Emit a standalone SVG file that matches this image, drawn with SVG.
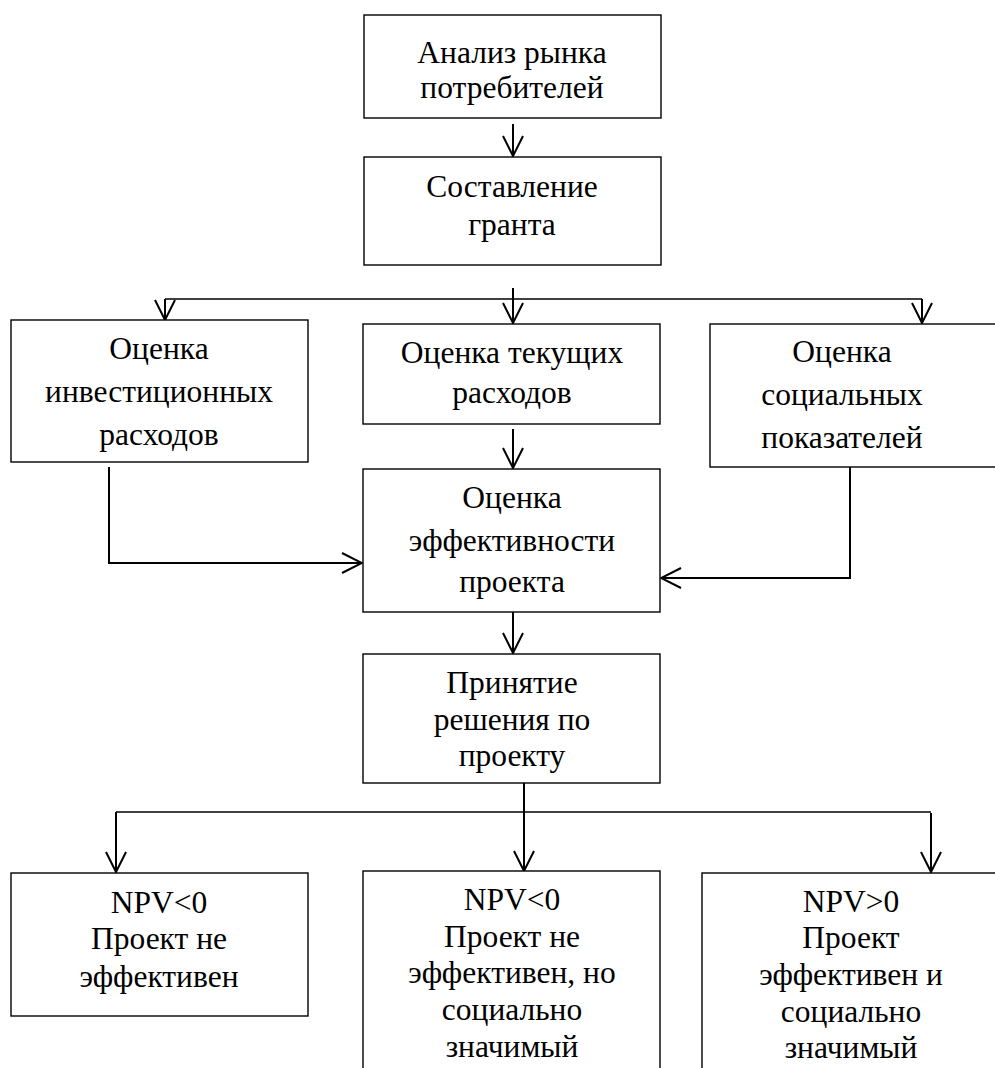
<svg xmlns="http://www.w3.org/2000/svg" width="995" height="1068" viewBox="0 0 995 1068">
<style>
.box{fill:#fff;stroke:#000;stroke-width:1.4}
.t{font-family:'Liberation Serif','Times New Roman','DejaVu Serif',serif;font-size:31.5px;fill:#000;text-anchor:middle}
.c{fill:none;stroke:#000;stroke-width:2}
.h{fill:none;stroke:#000;stroke-width:1.6}
</style>
<defs>
<marker id="a" viewBox="0 0 22 22" markerWidth="22" markerHeight="22" refX="21" refY="11" orient="auto" markerUnits="userSpaceOnUse">
<path d="M1,1 L21,11 L1,21" fill="none" stroke="#000" stroke-width="2"/>
</marker>
</defs>
<rect width="995" height="1068" fill="#fff"/>
<g id="connectors">
<line class="c" x1="513" y1="124" x2="513" y2="156" marker-end="url(#a)"/>
<line class="h" x1="165" y1="299" x2="922" y2="299"/>
<line class="c" x1="165" y1="299" x2="165" y2="320" marker-end="url(#a)"/>
<line class="c" x1="513" y1="288" x2="513" y2="323" marker-end="url(#a)"/>
<line class="c" x1="922" y1="299" x2="922" y2="323" marker-end="url(#a)"/>
<line class="c" x1="513" y1="429" x2="513" y2="468" marker-end="url(#a)"/>
<polyline class="c" points="109,467 109,563 362,563" marker-end="url(#a)"/>
<polyline class="c" points="850,467 850,578 661,578" marker-end="url(#a)"/>
<line class="c" x1="513" y1="612" x2="513" y2="653" marker-end="url(#a)"/>
<line class="c" x1="524" y1="783" x2="524" y2="871" marker-end="url(#a)"/>
<line class="h" x1="116" y1="812" x2="931" y2="812"/>
<line class="c" x1="116" y1="812" x2="116" y2="872" marker-end="url(#a)"/>
<line class="c" x1="931" y1="813" x2="931" y2="872" marker-end="url(#a)"/>
</g>
<g id="n1">
<rect class="box" x="364" y="15" width="297" height="103"/>
<text class="t" x="512" y="63">Анализ рынка</text>
<text class="t" x="512" y="98">потребителей</text>
</g>
<g id="n2">
<rect class="box" x="364" y="157" width="297" height="108"/>
<text class="t" x="512" y="197">Составление</text>
<text class="t" x="512" y="235">гранта</text>
</g>
<g id="n3">
<rect class="box" x="11" y="320" width="297" height="142"/>
<text class="t" x="159" y="359">Оценка</text>
<text class="t" x="159" y="402">инвестиционных</text>
<text class="t" x="159" y="445">расходов</text>
</g>
<g id="n4">
<rect class="box" x="363" y="324" width="297" height="100"/>
<text class="t" x="512" y="363">Оценка текущих</text>
<text class="t" x="512" y="403">расходов</text>
</g>
<g id="n5">
<rect class="box" x="710" y="324" width="300" height="143"/>
<text class="t" x="842" y="362">Оценка</text>
<text class="t" x="842" y="405">социальных</text>
<text class="t" x="842" y="448">показателей</text>
</g>
<g id="n6">
<rect class="box" x="363" y="469" width="297" height="143"/>
<text class="t" x="512" y="508">Оценка</text>
<text class="t" x="512" y="551">эффективности</text>
<text class="t" x="512" y="592">проекта</text>
</g>
<g id="n7">
<rect class="box" x="363" y="654" width="297" height="129"/>
<text class="t" x="512" y="693">Принятие</text>
<text class="t" x="512" y="730">решения по</text>
<text class="t" x="512" y="766">проекту</text>
</g>
<g id="n8">
<rect class="box" x="11" y="873" width="297" height="143"/>
<text class="t" x="159" y="913">NPV&lt;0</text>
<text class="t" x="159" y="949">Проект не</text>
<text class="t" x="159" y="987">эффективен</text>
</g>
<g id="n9">
<rect class="box" x="363" y="871" width="297" height="220"/>
<text class="t" x="512" y="910">NPV&lt;0</text>
<text class="t" x="512" y="947">Проект не</text>
<text class="t" x="512" y="983">эффективен, но</text>
<text class="t" x="512" y="1020">социально</text>
<text class="t" x="512" y="1057">значимый</text>
</g>
<g id="n10">
<rect class="box" x="702" y="873" width="310" height="220"/>
<text class="t" x="851" y="912">NPV&gt;0</text>
<text class="t" x="851" y="948">Проект</text>
<text class="t" x="851" y="985">эффективен и</text>
<text class="t" x="851" y="1022">социально</text>
<text class="t" x="851" y="1058">значимый</text>
</g>
</svg>
